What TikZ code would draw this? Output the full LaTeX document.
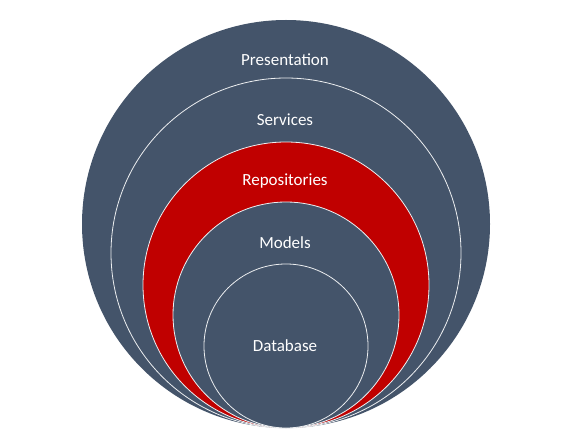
\documentclass[tikz,border=0pt]{standalone}
\usepackage{fontspec}
\setmainfont{Carlito}
\usepackage{xcolor}
\usepackage{tikz}
\definecolor{slate}{HTML}{44546A}
\definecolor{hotred}{HTML}{C00000}
\tikzset{
  ring/.style={
    circle,
    fill=slate,
    draw=white!90!slate,
    line width=0.8pt,
    inner sep=0pt
  },
  ringhot/.style={ring,fill=hotred},
  ringtext/.style={
    text=white,
    inner sep=0pt,
    font=\fontsize{17}{19}\selectfont
  }
}
\begin{document}
\begin{tikzpicture}[x=1pt,y=1pt]
  \useasboundingbox (0,0) rectangle (578,442);
  % rings, all touching at the bottom
  \node[ring,draw=none,minimum size=408pt] (presentation) at (286,218) {};
  \node[ring,minimum size=350pt] (services) at (286,189) {};
  \node[ringhot,minimum size=286pt] (repositories) at (286,157) {};
  \node[ring,minimum size=226pt] (models) at (286,127) {};
  \node[ring,minimum size=164pt] (database) at (286,96) {};
  % labels
  \node[ringtext] (presentationtext) at (285,382) {Presentation};
  \node[ringtext] (servicestext) at (285,322) {Services};
  \node[ringtext] (repositoriestext) at (285,261) {Repositories};
  \node[ringtext] (modelstext) at (285,199) {Models};
  \node[ringtext] (databasetext) at (285,96) {Database};
\end{tikzpicture}
\end{document}
